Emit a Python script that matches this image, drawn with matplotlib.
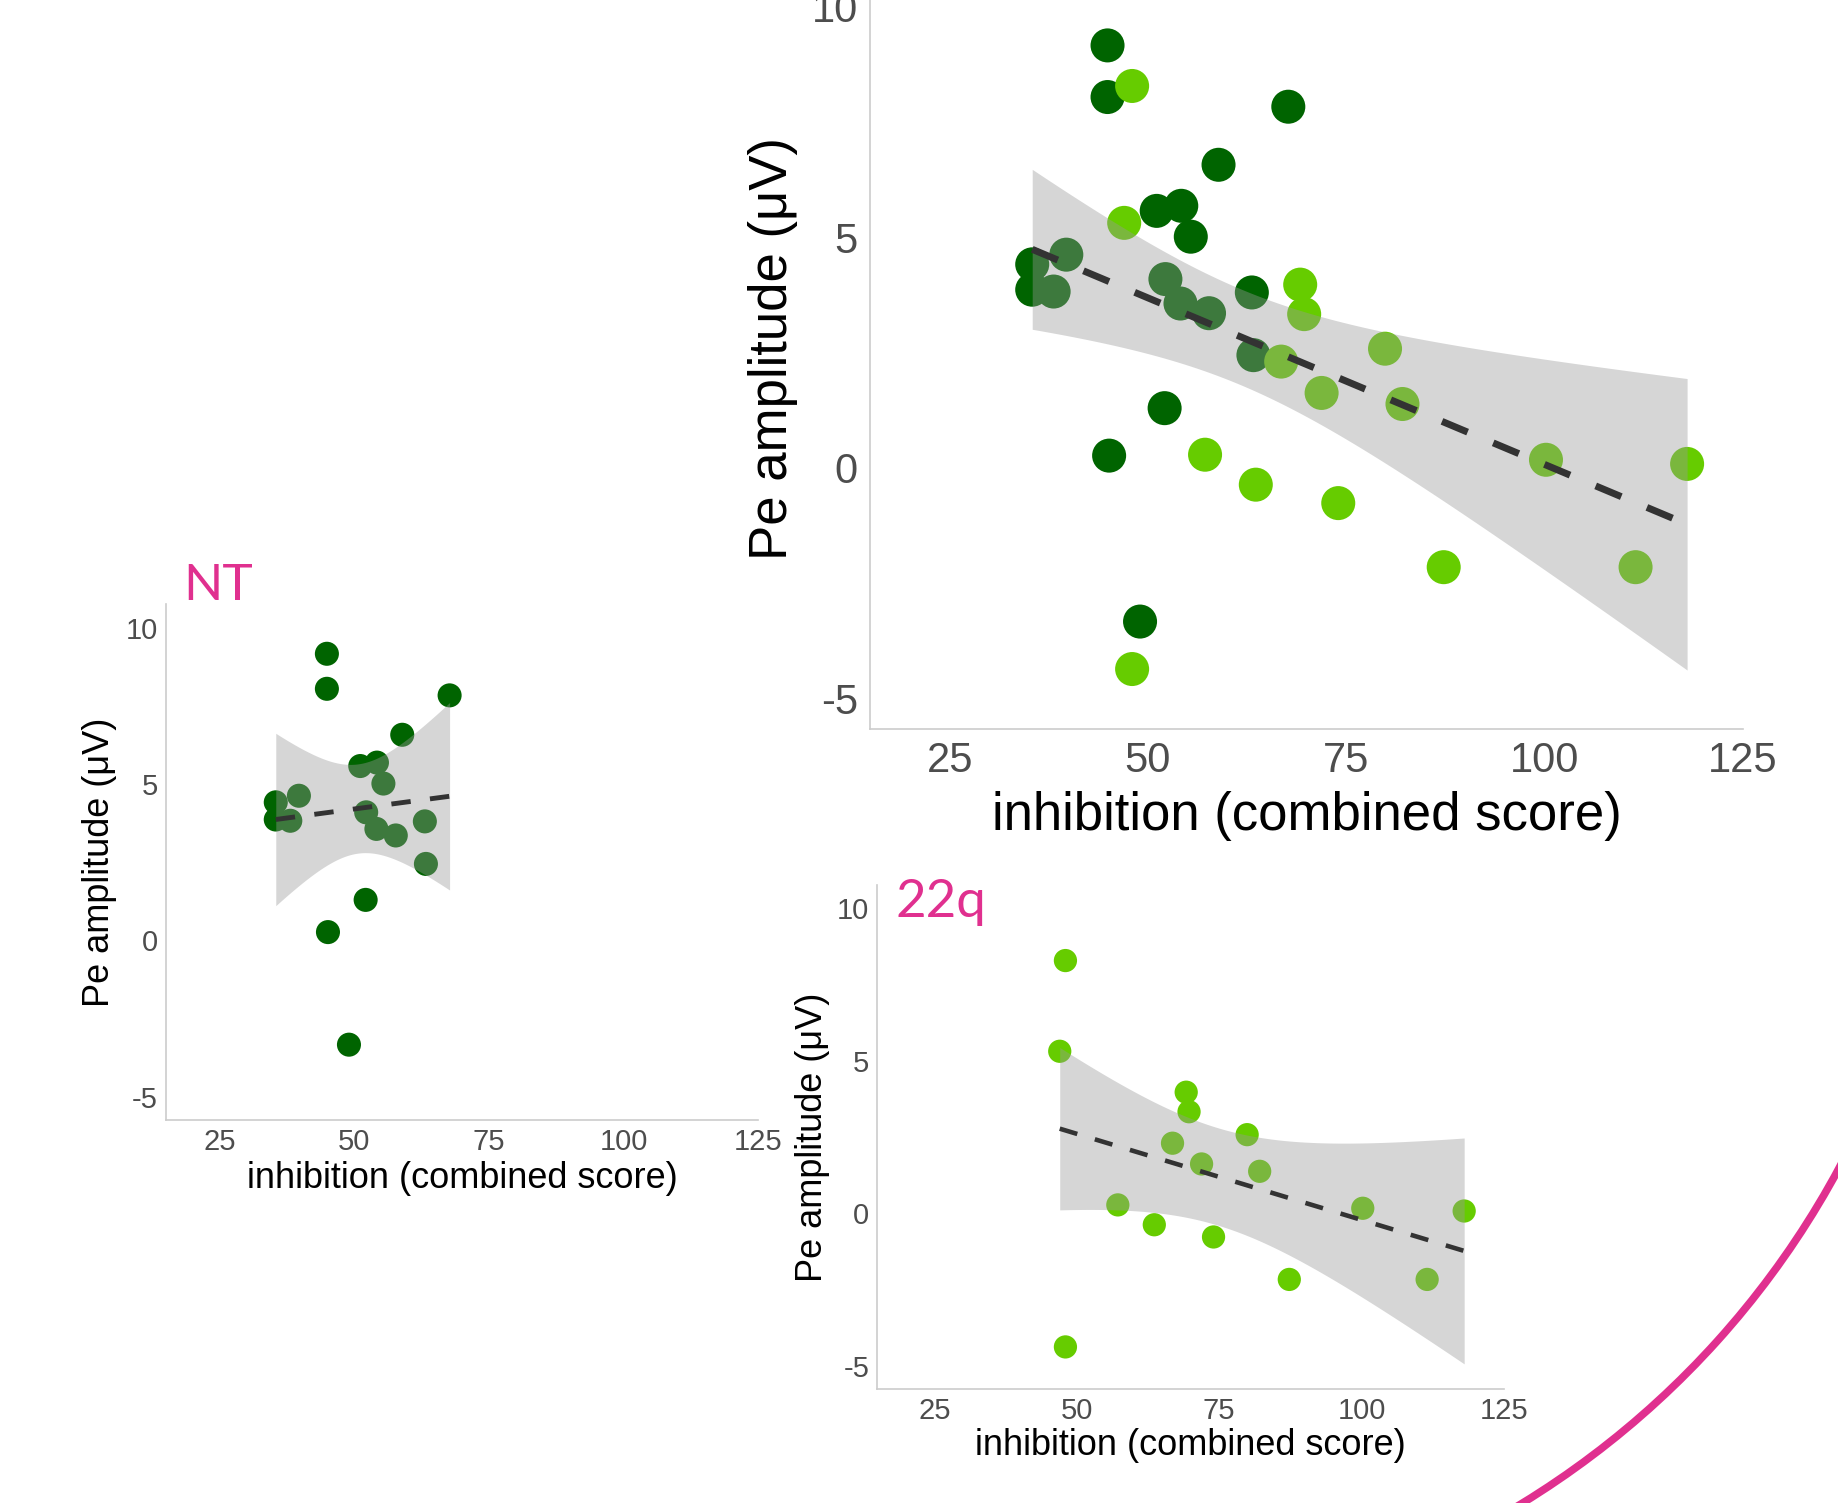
import numpy as np
import matplotlib
matplotlib.use('Agg')
import matplotlib.pyplot as plt
from matplotlib.patches import Arc

plt.rcParams['font.family'] = ['Liberation Sans', 'DejaVu Sans']
plt.rcParams['axes.unicode_minus'] = False

# ── DATA ─────────────────────────────────────────────────────────────────────
nt_x = [44.9, 44.9, 67.7, 58.9, 51.1, 54.2, 55.4, 35.4, 35.4, 39.7,
        38.1, 52.2, 54.1, 57.7, 63.1, 63.3, 52.1, 45.1, 49.0]
nt_y = [9.16, 8.04, 7.83, 6.57, 5.57, 5.68, 5.01, 4.41, 3.86, 4.62,
        3.82, 4.09, 3.56, 3.35, 3.80, 2.44, 1.29, 0.26, -3.34]

q22_x = [48.0, 47.0, 69.2, 69.7, 66.8, 79.9, 71.9, 82.1, 100.2, 118.0,
         57.2, 63.6, 74.0, 87.3, 111.5, 48.0]
q22_y = [8.28, 5.31, 3.97, 3.33, 2.30, 2.58, 1.62, 1.38, 0.17, 0.08,
         0.28, -0.37, -0.77, -2.16, -2.16, -4.37]

x_ticks = [25, 50, 75, 100, 125]
y_ticks = [-5, 0, 5, 10]
xlabel = 'inhibition (combined score)'
ylabel = 'Pe amplitude (μV)'

NT_COL = '#006400'
Q22_COL = '#66cc00'
PINK = '#e0308f'

# two-sided 95% t quantiles for df = n - 2
T975 = {14: 2.1448, 17: 2.1098, 33: 2.0345}


def lm_band(x, y, n_pts=100):
    x = np.asarray(x, float)
    y = np.asarray(y, float)
    n = len(x)
    b1, b0 = np.polyfit(x, y, 1)
    resid = y - (b0 + b1 * x)
    s = np.sqrt((resid ** 2).sum() / (n - 2))
    xs = np.linspace(x.min(), x.max(), n_pts)
    fit = b0 + b1 * xs
    se = s * np.sqrt(1 / n + (xs - x.mean()) ** 2 / ((x - x.mean()) ** 2).sum())
    t = T975[n - 2]
    return xs, fit, fit - t * se, fit + t * se


def panel(ax, groups, fit_x, fit_y, ms, lw, tick_fs, lab_fs, tpad, lpad_x, lpad_y,
          ylim=(-5.75, 10.75)):
    for gx, gy, col in groups:
        ax.scatter(gx, gy, s=ms, color=col, edgecolors='none', zorder=2)
    xs, fit, lo, hi = lm_band(fit_x, fit_y)
    ax.fill_between(xs, lo, hi, color='#999999', alpha=0.4, lw=0, zorder=3)
    ax.plot(xs, fit, color='#333333', lw=lw, ls=(0, (4, 4)), zorder=4)
    ax.set_xlim(15, 125)
    ax.set_ylim(*ylim)
    ax.set_xticks(x_ticks)
    ax.set_yticks(y_ticks)
    ax.tick_params(length=0, labelsize=tick_fs, labelcolor='#4d4d4d', pad=tpad)
    for side in ['top', 'right']:
        ax.spines[side].set_visible(False)
    for side in ['left', 'bottom']:
        ax.spines[side].set_color('#cccccc')
        ax.spines[side].set_linewidth(1.2)
    ax.set_xlabel(xlabel, fontsize=lab_fs, labelpad=lpad_x)
    ax.set_ylabel(ylabel, fontsize=lab_fs, labelpad=lpad_y)
    ax.set_facecolor('none')


fig = plt.figure(figsize=(18.38, 15.03), dpi=100)

# overlay in pixel units for the decorative arc
bg = fig.add_axes([0, 0, 1, 1])
bg.set_xlim(0, 1838)
bg.set_ylim(0, 1503)
bg.axis('off')
bg.add_patch(Arc((1059, 755), 1772, 1772, theta1=-64, theta2=-20,
                 color=PINK, lw=5.5))

# big combined panel (top right)
ax_big = fig.add_axes([0.4736, 0.515, 0.4745, 0.506])
panel(ax_big, [(nt_x, nt_y, NT_COL), (q22_x, q22_y, Q22_COL)],
      nt_x + q22_x, nt_y + q22_y, ms=600, lw=5, tick_fs=30, lab_fs=38,
      tpad=9, lpad_x=7, lpad_y=10, ylim=(-5.67, 10.83))

# NT panel (left)
ax_nt = fig.add_axes([0.0903, 0.2548, 0.3221, 0.3433])
panel(ax_nt, [(nt_x, nt_y, NT_COL)], nt_x, nt_y, ms=300, lw=3.5,
      tick_fs=21, lab_fs=26, tpad=6, lpad_x=3, lpad_y=6)

# 22q panel (bottom right)
ax_q = fig.add_axes([0.4774, 0.0758, 0.3409, 0.3353])
panel(ax_q, [(q22_x, q22_y, Q22_COL)], q22_x, q22_y, ms=280, lw=3.3,
      tick_fs=21, lab_fs=26, tpad=6, lpad_x=2, lpad_y=5)

# group labels
fig.text(183 / 1838, 1 - 600 / 1503, 'NT', color=PINK, fontsize=37,
         family=['Lato', 'DejaVu Sans'], va='baseline')
fig.text(895 / 1838, 1 - 917 / 1503, '22q', color=PINK, fontsize=38,
         family=['Lato', 'DejaVu Sans'], va='baseline')

fig.savefig('out.png', dpi=100)
